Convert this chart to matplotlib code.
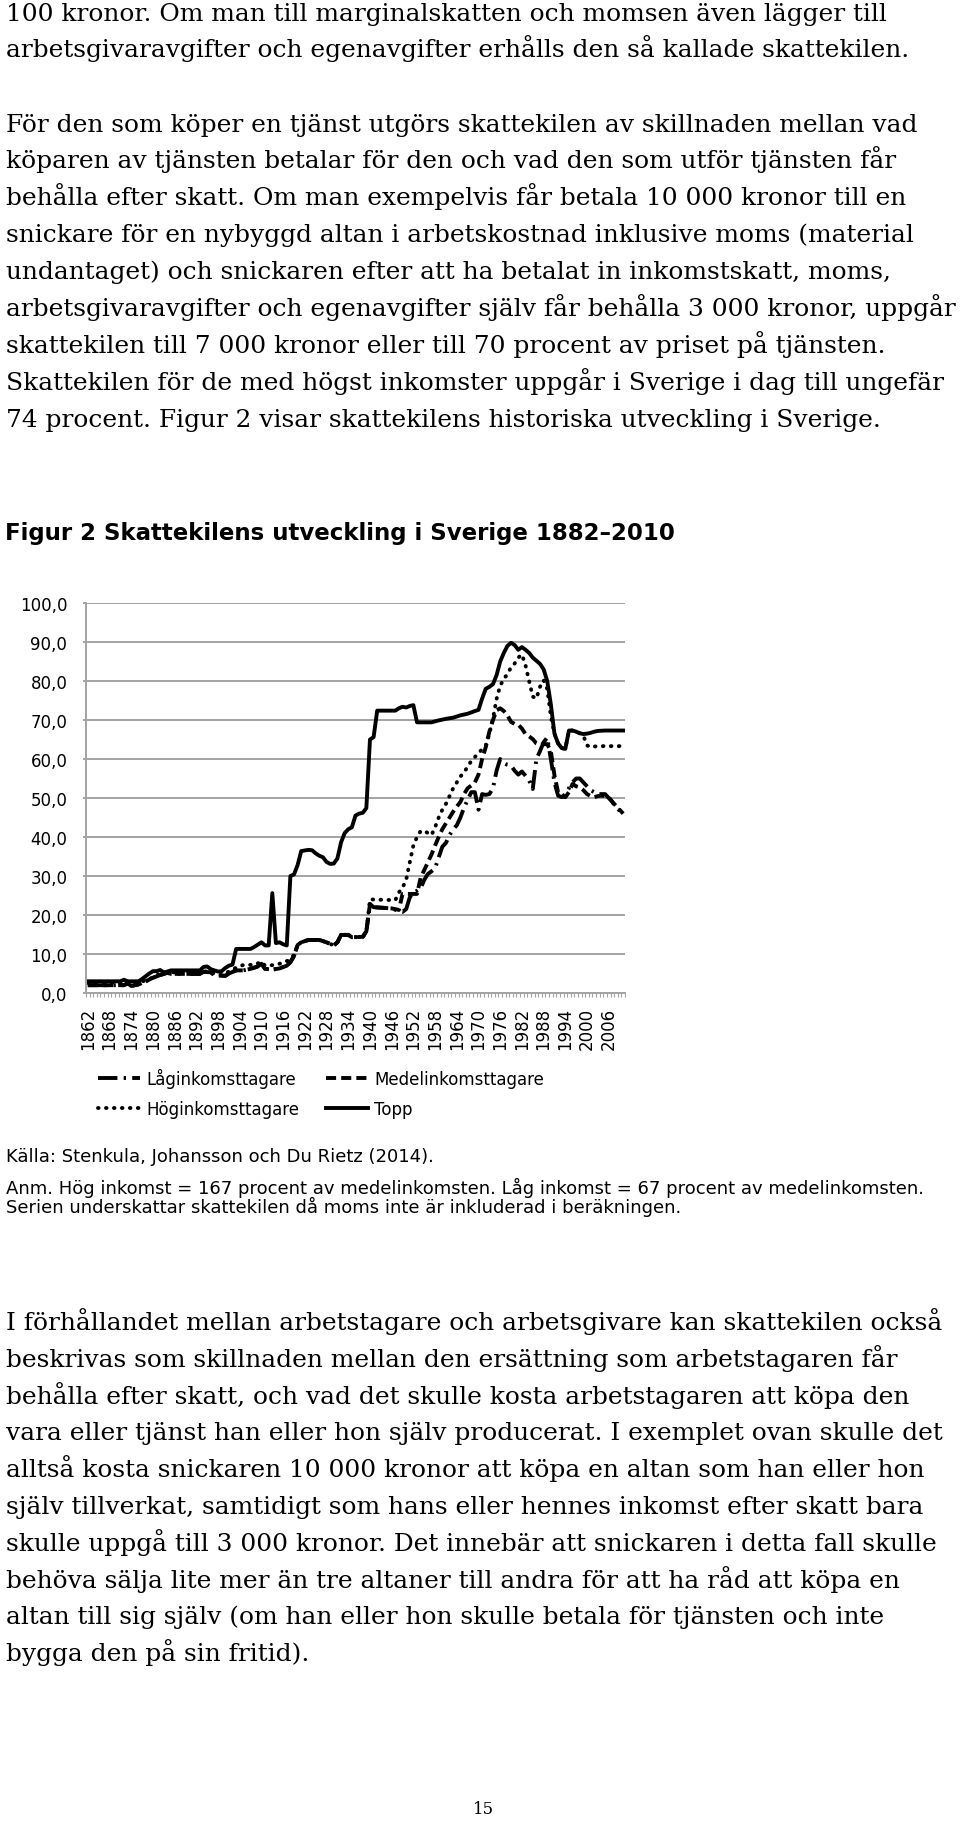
import matplotlib
matplotlib.use("Agg")
import matplotlib.pyplot as plt
import numpy as np
from matplotlib.ticker import FixedLocator, FuncFormatter

W, H = 960, 1849

# --- data (tax wedge, percent) ---
topp_years = [1862, 1871, 1872, 1873, 1876, 1877, 1878, 1879, 1880, 1881,
              1882, 1883, 1884, 1885, 1893, 1894, 1895, 1896, 1897, 1898,
              1899, 1900, 1901, 1902, 1903, 1907, 1908, 1909, 1910, 1911,
              1912, 1913, 1914, 1915, 1916, 1917, 1918, 1919, 1920, 1921,
              1923, 1924, 1925, 1926, 1927, 1928, 1929, 1930, 1931, 1932,
              1933, 1934, 1935, 1936, 1937, 1938, 1939, 1940, 1941, 1942,
              1947, 1948, 1949, 1950, 1951, 1952, 1953, 1957, 1959, 1961,
              1963, 1965, 1967, 1969, 1970, 1971, 1972, 1973, 1974, 1975,
              1976, 1977, 1978, 1979, 1980, 1981, 1982, 1983, 1984, 1985,
              1986, 1987, 1988, 1989, 1990, 1991, 1992, 1993, 1994, 1995,
              1996, 1997, 1998, 1999, 2000, 2001, 2002, 2003, 2005, 2010]
topp_values = [3.0, 3.0, 3.4, 3.0, 3.0, 3.6, 4.3, 5.0, 5.6, 5.6,
               5.9, 5.3, 5.5, 5.8, 5.8, 6.7, 6.8, 6.1, 5.8, 5.5,
               5.6, 6.4, 7.0, 7.3, 11.3, 11.3, 11.8, 12.4, 13.0, 12.2,
               12.2, 25.6, 12.8, 13.0, 12.5, 12.2, 30.0, 30.4, 32.8, 36.4,
               36.7, 36.6, 35.8, 35.2, 34.8, 33.6, 33.1, 33.2, 34.5, 38.6,
               41.0, 42.0, 42.5, 45.5, 46.0, 46.2, 47.4, 65.0, 65.6, 72.4,
               72.4, 73.0, 73.4, 73.2, 73.6, 73.8, 69.4, 69.4, 69.9, 70.3,
               70.6, 71.2, 71.6, 72.3, 72.6, 75.5, 78.0, 78.5, 79.2, 81.5,
               85.0, 87.2, 89.0, 89.8, 89.2, 88.0, 88.7, 88.0, 87.2, 86.0,
               85.2, 84.4, 83.0, 80.0, 74.0, 66.5, 64.0, 62.8, 62.6, 67.3,
               67.3, 67.0, 66.6, 66.4, 66.5, 66.7, 67.0, 67.2, 67.3, 67.3]

hog_years = [1862, 1872, 1874, 1878, 1880, 1882, 1885, 1893, 1895, 1897,
             1899, 1901, 1903, 1905, 1908, 1910, 1911, 1914, 1916, 1917,
             1918, 1919, 1920, 1921, 1923, 1926, 1928, 1930, 1931, 1932,
             1934, 1935, 1938, 1939, 1940, 1947, 1948, 1949, 1950, 1951,
             1952, 1953, 1954, 1955, 1956, 1957, 1958, 1959, 1960, 1961,
             1962, 1963, 1964, 1965, 1966, 1967, 1968, 1969, 1970, 1971,
             1972, 1973, 1974, 1975, 1976, 1977, 1978, 1979, 1980, 1981,
             1982, 1983, 1984, 1985, 1986, 1987, 1988, 1989, 1990, 1991,
             1992, 1993, 1994, 1995, 1996, 1997, 1998, 1999, 2000, 2001,
             2002, 2003, 2010]
hog_values = [2.6, 2.6, 2.3, 3.2, 4.0, 5.0, 5.3, 5.3, 5.6, 5.0,
              4.6, 5.5, 6.5, 7.2, 7.2, 8.0, 7.0, 7.2, 7.8, 8.2,
              8.5, 9.8, 12.3, 13.0, 13.6, 13.6, 13.0, 12.2, 13.0, 14.9,
              14.9, 14.3, 14.4, 15.8, 24.0, 23.8, 25.8, 27.0, 29.0, 33.5,
              37.8, 40.0, 41.5, 41.6, 41.0, 40.5, 42.5, 45.0, 47.0, 48.5,
              50.5, 52.5, 54.0, 55.5, 56.6, 58.0, 59.5, 60.5, 61.5, 62.5,
              63.4, 66.5, 70.3, 75.4, 78.8, 80.5, 81.8, 83.5, 84.5, 86.0,
              86.8, 84.0, 80.0, 76.0, 75.5, 78.5, 80.2, 78.0, 71.0, 66.5,
              64.0, 62.8, 62.6, 67.3, 67.3, 67.0, 66.6, 66.0, 63.5, 63.0,
              63.2, 63.3, 63.3]

medel_years = [1862, 1872, 1873, 1874, 1876, 1878, 1880, 1882, 1884, 1885,
               1893, 1894, 1896, 1897, 1900, 1901, 1903, 1905, 1907, 1909,
               1910, 1911, 1913, 1915, 1917, 1918, 1919, 1920, 1921, 1923,
               1926, 1928, 1930, 1931, 1932, 1934, 1935, 1938, 1939, 1940,
               1941, 1946, 1948, 1949, 1953, 1954, 1955, 1956, 1957, 1958,
               1959, 1960, 1961, 1962, 1963, 1964, 1965, 1966, 1967, 1968,
               1969, 1970, 1971, 1972, 1973, 1974, 1975, 1976, 1977, 1978,
               1979, 1980, 1981, 1982, 1983, 1984, 1985, 1986, 1987, 1988,
               1989, 1990, 1991, 1992, 1993, 1994, 1995, 1996, 1997, 1998,
               1999, 2000, 2001, 2002, 2003, 2004, 2005, 2006, 2007, 2008,
               2009, 2010]
medel_values = [2.0, 2.0, 2.5, 1.8, 2.2, 3.0, 3.9, 4.6, 5.2, 4.9,
                4.9, 5.4, 5.3, 4.6, 4.4, 5.0, 5.8, 5.8, 6.2, 6.8,
                7.5, 6.2, 6.0, 6.3, 7.0, 7.9, 9.5, 12.3, 13.0, 13.6,
                13.6, 13.0, 12.2, 13.0, 14.9, 14.9, 14.3, 14.4, 15.8, 22.8,
                22.0, 21.7, 21.3, 25.4, 25.4, 29.5, 31.5, 33.5, 35.5, 37.8,
                40.0, 42.0, 43.5, 45.0, 46.5, 47.8, 49.0, 51.0, 52.5, 53.2,
                54.0, 56.0, 60.0, 63.0, 67.0, 70.0, 72.5, 73.0, 72.3, 71.2,
                69.5, 69.0, 68.8, 67.8, 66.4, 65.8, 65.1, 64.0, 63.6, 63.8,
                63.8, 62.0, 55.8, 51.5, 50.5, 50.2, 51.5, 53.6, 53.0, 52.7,
                52.0, 51.0, 50.5, 50.2, 50.5, 50.6, 50.5, 50.2, 49.0, 48.0,
                47.0, 46.0]

lag_years = [1862, 1872, 1873, 1874, 1876, 1878, 1880, 1882, 1884, 1885,
             1893, 1894, 1896, 1897, 1900, 1901, 1903, 1905, 1907, 1909,
             1910, 1911, 1913, 1915, 1917, 1918, 1919, 1920, 1921, 1923,
             1926, 1928, 1930, 1931, 1932, 1934, 1935, 1938, 1939, 1940,
             1941, 1946, 1948, 1949, 1950, 1951, 1952, 1953, 1954, 1955,
             1956, 1957, 1958, 1959, 1960, 1961, 1962, 1963, 1964, 1965,
             1966, 1967, 1968, 1969, 1970, 1971, 1972, 1973, 1974, 1975,
             1976, 1977, 1978, 1979, 1980, 1981, 1982, 1983, 1984, 1985,
             1986, 1987, 1988, 1989, 1990, 1991, 1992, 1993, 1994, 1995,
             1996, 1997, 1998, 1999, 2000, 2001, 2002, 2003, 2004, 2005,
             2006, 2007, 2008, 2009, 2010]
lag_values = [2.0, 2.0, 2.5, 1.8, 2.2, 3.0, 3.9, 4.6, 5.2, 4.9,
              4.9, 5.4, 5.3, 4.6, 4.4, 5.0, 5.8, 5.8, 6.2, 6.8,
              7.5, 6.2, 6.0, 6.3, 7.0, 7.9, 9.5, 12.3, 13.0, 13.6,
              13.6, 13.0, 12.2, 13.0, 14.9, 14.9, 14.3, 14.4, 15.8, 22.8,
              22.0, 21.7, 21.0, 20.8, 21.5, 24.5, 25.8, 26.2, 26.8, 29.0,
              30.5, 31.2, 32.0, 34.8, 37.5, 38.5, 40.5, 42.0, 43.0, 45.0,
              47.5, 49.5, 51.5, 51.5, 47.0, 51.0, 50.8, 51.0, 52.5, 57.0,
              60.0, 59.0, 58.5, 58.3, 57.0, 56.0, 56.8, 55.7, 54.5, 52.3,
              60.0, 62.0, 64.3, 65.5, 60.0, 54.0, 50.6, 50.2, 51.0, 52.5,
              54.0, 55.0, 55.0, 54.0, 53.0, 52.0, 51.5, 51.0, 51.0, 51.0,
              50.0, 49.0, 47.5, 46.8, 46.0]

label_years = list(range(1862, 2007, 6))
y_ticks = list(range(0, 101, 10))

top_lines = [
    "100 kronor. Om man till marginalskatten och momsen även lägger till",
    "arbetsgivaravgifter och egenavgifter erhålls den så kallade skattekilen.",
    "För den som köper en tjänst utgörs skattekilen av skillnaden mellan vad",
    "köparen av tjänsten betalar för den och vad den som utför tjänsten får",
    "behålla efter skatt. Om man exempelvis får betala 10 000 kronor till en",
    "snickare för en nybyggd altan i arbetskostnad inklusive moms (material",
    "undantaget) och snickaren efter att ha betalat in inkomstskatt, moms,",
    "arbetsgivaravgifter och egenavgifter själv får behålla 3 000 kronor, uppgår",
    "skattekilen till 7 000 kronor eller till 70 procent av priset på tjänsten.",
    "Skattekilen för de med högst inkomster uppgår i Sverige i dag till ungefär",
    "74 procent. Figur 2 visar skattekilens historiska utveckling i Sverige.",
]
top_baselines = [21, 57, 132, 168, 205, 242, 279, 316, 353, 390, 427]

bottom_lines = [
    "I förhållandet mellan arbetstagare och arbetsgivare kan skattekilen också",
    "beskrivas som skillnaden mellan den ersättning som arbetstagaren får",
    "behålla efter skatt, och vad det skulle kosta arbetstagaren att köpa den",
    "vara eller tjänst han eller hon själv producerat. I exemplet ovan skulle det",
    "alltså kosta snickaren 10 000 kronor att köpa en altan som han eller hon",
    "själv tillverkat, samtidigt som hans eller hennes inkomst efter skatt bara",
    "skulle uppgå till 3 000 kronor. Det innebär att snickaren i detta fall skulle",
    "behöva sälja lite mer än tre altaner till andra för att ha råd att köpa en",
    "altan till sig själv (om han eller hon skulle betala för tjänsten och inte",
    "bygga den på sin fritid).",
]
bottom_first = 1330

notes = [
    "Källa: Stenkula, Johansson och Du Rietz (2014).",
    "Anm. Hög inkomst = 167 procent av medelinkomsten. Låg inkomst = 67 procent av medelinkomsten.",
    "Serien underskattar skattekilen då moms inte är inkluderad i beräkningen.",
]
note_baselines = [1162, 1194, 1213]

SERIF = ["DejaVu Serif"]
SANS = ["DejaVu Sans"]
GRAY = "#a3a3a3"

fig = plt.figure(figsize=(W / 100, H / 100), dpi=100)

# body text
for txt, yb in zip(top_lines, top_baselines):
    fig.text(6 / W, 1 - yb / H, txt, family=SERIF, fontsize=17.9, va="baseline")
for i, txt in enumerate(bottom_lines):
    fig.text(6 / W, 1 - (bottom_first + i * 36.8) / H, txt, family=SERIF,
             fontsize=17.9, va="baseline")
fig.text(483 / W, 1 - 1814 / H, "15", family=SERIF, fontsize=12,
         ha="center", va="baseline")

fig.text(5 / W, 1 - 540 / H, "Figur 2 Skattekilens utveckling i Sverige 1882\u20132010",
         family=SANS, fontsize=16.5, weight="bold", va="baseline")

for txt, yb in zip(notes, note_baselines):
    fig.text(6 / W, 1 - yb / H, txt, family=SANS, fontsize=13, va="baseline")

# chart
ax = fig.add_axes([86 / W, 1 - 994 / H, 539 / W, 390 / H])
l_lag, = ax.plot(lag_years, lag_values, color="black", lw=2.8,
                 linestyle=(0, (5, 1.6, 0.6, 1.6)), label="Låginkomsttagare")
l_med, = ax.plot(medel_years, medel_values, color="black", lw=2.8,
                 linestyle=(0, (2.6, 1.3)), label="Medelinkomsttagare")
l_hog, = ax.plot(hog_years, hog_values, color="black", lw=2.8,
                 linestyle=(0, (0.15, 1.9)), dash_capstyle="round",
                 label="Höginkomsttagare")
l_top, = ax.plot(topp_years, topp_values, color="black", lw=2.8,
                 solid_joinstyle="round", label="Topp")

ax.set_xlim(1861.5, 2010.5)
ax.set_ylim(0, 100)
ax.set_yticks(y_ticks)
ax.yaxis.set_major_formatter(FuncFormatter(lambda v, p: f"{v:.1f}".replace(".", ",")))
ax.yaxis.grid(True, color=GRAY, lw=1.4)
ax.set_axisbelow(True)

ax.xaxis.set_major_locator(FixedLocator(label_years))
ax.set_xticklabels([str(y) for y in label_years], rotation=90)
ax.xaxis.set_minor_locator(FixedLocator(np.arange(1861.5, 2011, 1.0)))
ax.tick_params(axis="x", which="major", length=0, pad=10, labelsize=12)
ax.tick_params(axis="x", which="minor", length=3, width=0.8, color=GRAY)
ax.tick_params(axis="y", length=2.5, width=1.4, color=GRAY, pad=11, labelsize=12)
for lab in ax.get_xticklabels() + ax.get_yticklabels():
    lab.set_family(SANS)

for side in ["top", "right"]:
    ax.spines[side].set_visible(False)
for side in ["left", "bottom"]:
    ax.spines[side].set_color(GRAY)
    ax.spines[side].set_linewidth(1.4)

fig.legend([l_lag, l_hog, l_med, l_top],
           ["Låginkomsttagare", "Höginkomsttagare", "Medelinkomsttagare", "Topp"],
           loc="center left", bbox_to_anchor=(98 / W, 1 - 1094 / H), ncol=2,
           frameon=False, prop={"family": SANS, "size": 12},
           handlelength=2.5, handletextpad=0.4, columnspacing=1.6,
           labelspacing=0.7, borderpad=0, borderaxespad=0)

fig.savefig("out.png", dpi=100)
